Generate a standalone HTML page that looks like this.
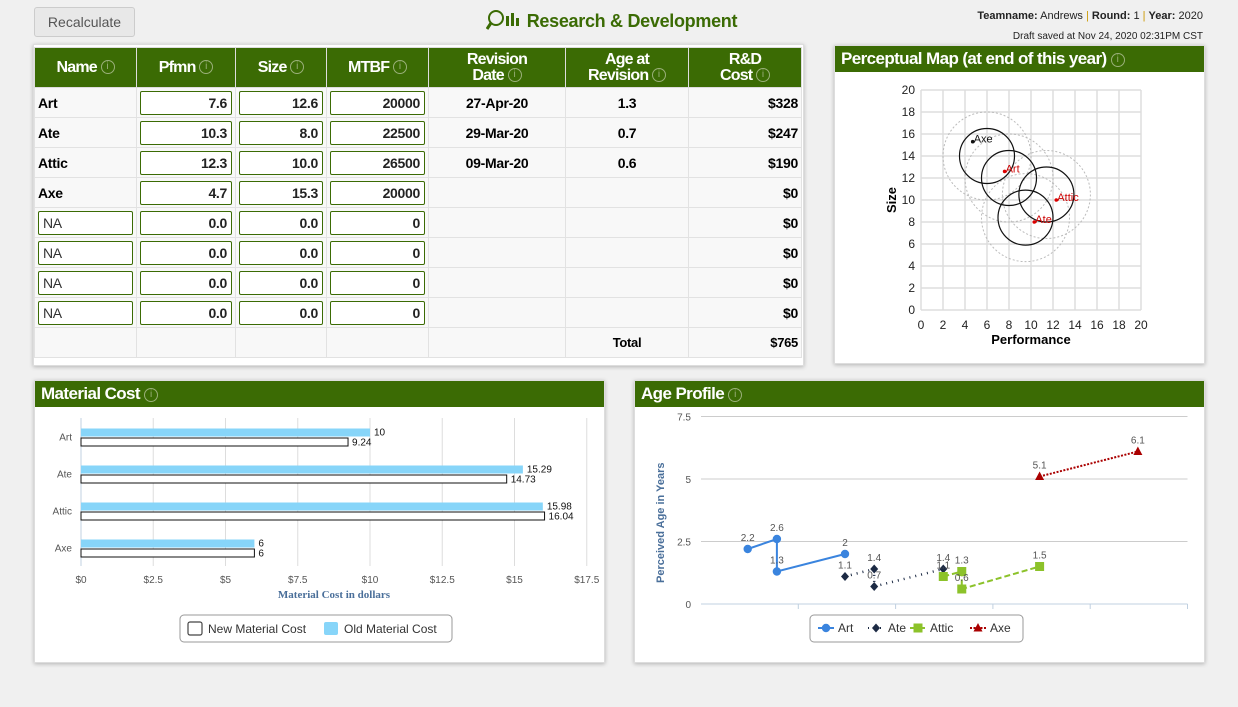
<!DOCTYPE html>
<html><head><meta charset="utf-8">
<style>
*{box-sizing:border-box}
body{margin:0;width:1238px;height:707px;background:#f0f0f0;font-family:"Liberation Sans",sans-serif;position:relative;overflow:hidden}
.abs{position:absolute}
.panel{position:absolute;background:#fff;border:1px solid #ddd;box-shadow:0 1px 4px rgba(0,0,0,.25)}
.ph{background:#3b6b04;color:#fff;font-weight:bold;font-size:17px;letter-spacing:-0.6px;height:26px;line-height:26px;padding-left:6px}
.info{display:inline-block;width:14px;height:14px;border:1px solid #9ab07a;border-radius:50%;color:#9ab07a;font-size:10px;line-height:12px;text-align:center;font-weight:normal;vertical-align:middle;letter-spacing:0}
table{border-collapse:collapse;position:absolute;left:34px;top:47px;table-layout:fixed}
th{background:#3b6b04;color:#fff;font-size:16px;letter-spacing:-0.8px;height:40px;border:1px solid #ddd;line-height:16px;padding:0}
td{height:30px;border:1px solid #e2e2e2;background:#f8f8f8;font-size:14px;letter-spacing:-0.3px;font-weight:bold;padding:0 3px}
.inp{border:1px solid #3b6b04;border-radius:2px;background:#fff;height:24px;line-height:22px;text-align:right;padding-right:4px;font-weight:bold;font-size:14px;color:#222}
.na{text-align:left;padding-left:4px;font-weight:normal;color:#333}
</style></head><body>
<div class="abs" style="left:34px;top:7px;width:101px;height:30px;border:1px solid #ccc;border-radius:3px;background:#e8e8e8;color:#555;font-size:14px;line-height:28px;text-align:center">Recalculate</div>
<div class="abs" style="left:486px;top:9px;font-size:18px;letter-spacing:-0.3px;font-weight:bold;color:#3b6b04">
<svg width="36" height="22" style="vertical-align:-4px"><circle cx="10" cy="9" r="7" fill="none" stroke="#3b6b04" stroke-width="2"/><line x1="5" y1="14" x2="1" y2="20" stroke="#3b6b04" stroke-width="3"/><rect x="20" y="7" width="3" height="10" fill="#3b6b04"/><rect x="25" y="4" width="3" height="13" fill="#3b6b04"/><rect x="30" y="9" width="3" height="8" fill="#3b6b04"/></svg> Research &amp; Development</div>
<div class="abs" style="right:35px;top:10px;font-size:11px;color:#222"><b>Teamname:</b> Andrews <span style="color:#c90">|</span> <b>Round:</b> 1 <span style="color:#c90">|</span> <b>Year:</b> 2020</div>
<div class="abs" style="right:35px;top:31px;font-size:10px;color:#222">Draft saved at Nov 24, 2020 02:31PM CST</div>

<div class="panel" style="left:33px;top:44px;width:771px;height:322px"></div>
<table>
<tr><th style="width:102px">Name <span class="info">i</span></th><th style="width:99px">Pfmn <span class="info">i</span></th><th style="width:91px">Size <span class="info">i</span></th><th style="width:102px">MTBF <span class="info">i</span></th><th style="width:137px">Revision<br>Date <span class="info">i</span></th><th style="width:123px">Age at<br>Revision <span class="info">i</span></th><th style="width:113px">R&amp;D<br>Cost <span class="info">i</span></th></tr>
<tbody id="tb"></tbody>
</table>

<div class="panel" style="left:834px;top:45px;width:371px;height:319px"><div class="ph">Perceptual Map (at end of this year) <span class="info">i</span></div></div>
<svg class="abs" style="left:834px;top:75px" width="370" height="285" id="pm"></svg>

<div class="panel" style="left:34px;top:380px;width:571px;height:283px"><div class="ph">Material Cost <span class="info">i</span></div></div>
<svg class="abs" style="left:34px;top:406px" width="570" height="255" id="mc"></svg>

<div class="panel" style="left:634px;top:380px;width:571px;height:283px"><div class="ph">Age Profile <span class="info">i</span></div></div>
<svg class="abs" style="left:634px;top:406px" width="570" height="255" id="ap"></svg>

<script>
const names=["Art","Ate","Attic","Axe","NA","NA","NA","NA"];
const pfmn=["7.6","10.3","12.3","4.7","0.0","0.0","0.0","0.0"];
const sizes=["12.6","8.0","10.0","15.3","0.0","0.0","0.0","0.0"];
const mtbf=["20000","22500","26500","20000","0","0","0","0"];
const revDate=["27-Apr-20","29-Mar-20","09-Mar-20","","","","",""];
const ageRev=["1.3","0.7","0.6","","","","",""];
const rdCost=["$328","$247","$190","$0","$0","$0","$0","$0"];
const tb=document.getElementById('tb');
let h='';
for(let i=0;i<8;i++){
 const nm=i<4?names[i]:'<div class="inp na">NA</div>';
 h+='<tr><td>'+nm+'</td><td><div class="inp">'+pfmn[i]+'</div></td><td><div class="inp">'+sizes[i]+'</div></td><td><div class="inp">'+mtbf[i]+'</div></td><td style="text-align:center">'+revDate[i]+'</td><td style="text-align:center">'+ageRev[i]+'</td><td style="text-align:right">'+rdCost[i]+'</td></tr>';
}
h+='<tr><td></td><td></td><td></td><td></td><td></td><td style="text-align:center;font-size:13px">Total</td><td style="text-align:right;font-size:13px">$765</td></tr>';
tb.innerHTML=h;
document.querySelectorAll('.inp').forEach(e=>{});

const NS='http://www.w3.org/2000/svg';
function mk(svg,tag,attrs,txt){const e=document.createElementNS(NS,tag);for(const k in attrs)e.setAttribute(k,attrs[k]);if(txt!==undefined)e.textContent=txt;svg.appendChild(e);return e;}

// ---- perceptual map
const pmNames=["Art","Ate","Attic","Axe"];
const pmPerf=[7.6,10.3,12.3,4.7];
const pmSize=[12.6,8.0,10.0,15.3];
const idealPerf=[8.0,9.5,11.4,6.0];
const idealSize=[12.0,8.4,10.5,14.0];
const pmTicks=[0,2,4,6,8,10,12,14,16,18,20];
const pm=document.getElementById('pm');
const px=v=>87+v*11, py=v=>235-v*11;
pmTicks.forEach(t=>{
 let l=mk(pm,'line',{x1:px(t),x2:px(t),y1:py(0),y2:py(20),stroke:'#ddd','stroke-width':1.5});
 
 l=mk(pm,'line',{x1:px(0),x2:px(20),y1:py(t),y2:py(t),stroke:'#ddd','stroke-width':1.5});
 
 let a=mk(pm,'text',{x:px(t),y:py(0)+19,'font-size':12,'text-anchor':'middle',fill:'#222'},t);
 
 a=mk(pm,'text',{x:px(0)-6,y:py(t)+4,'font-size':12,'text-anchor':'end',fill:'#222'},t);
 
});
let t1=mk(pm,'text',{x:px(10),y:py(0)+34,'font-size':13,'font-weight':'bold','text-anchor':'middle'},'Performance');

t1=mk(pm,'text',{x:62,y:py(10)+0,'font-size':13,'font-weight':'bold','text-anchor':'middle',transform:'rotate(-90 62 '+py(10)+')'},'Size');

for(let i=0;i<4;i++){
 let c=mk(pm,'circle',{cx:px(idealPerf[i]),cy:py(idealSize[i]),r:44,fill:'none',stroke:'#bbb','stroke-dasharray':'2,2'});
 
}
for(let i=0;i<4;i++){
 let c=mk(pm,'circle',{cx:px(idealPerf[i]),cy:py(idealSize[i]),r:27.5,fill:'none',stroke:'#111','stroke-width':1.2});
 
}
for(let i=0;i<4;i++){
 const red=i!==3;
 let d=mk(pm,'circle',{cx:px(pmPerf[i]),cy:py(pmSize[i]),r:1.8,fill:red?'#d00':'#111'});
 
 let t=mk(pm,'text',{x:px(pmPerf[i])+1,y:py(pmSize[i])+1,'font-size':11,fill:red?'#c00':'#111'},pmNames[i]);
 
}

// ---- material cost
const mcCats=["Art","Ate","Attic","Axe"];
const mcOld=[10,15.29,15.98,6];
const mcNew=[9.24,14.73,16.04,6];
const mcTicks=[0,2.5,5,7.5,10,12.5,15,17.5];
const mc=document.getElementById('mc');
const mx=v=>47+v*28.9, band=37, top0=12;
mcTicks.forEach(t=>{
 let l=mk(mc,'line',{x1:mx(t),x2:mx(t),y1:top0,y2:top0+band*4,stroke:'#ddd'});
 
 let a=mk(mc,'text',{x:mx(t),y:top0+band*4+17,'font-size':10,fill:'#555','text-anchor':'middle'},'$'+t);
 
});
mk(mc,'line',{x1:mx(0),x2:mx(0),y1:top0,y2:top0+band*4,stroke:'#c0d0e0'});
mcCats.forEach((c,i)=>{
 const cy=top0+band*i+band/2;
 let a=mk(mc,'text',{x:38,y:cy+4,'font-size':10,fill:'#555','text-anchor':'end'},c);
 
 let b=mk(mc,'rect',{x:mx(0),y:cy-8,width:mx(mcOld[i])-mx(0),height:8,fill:'#87d5f9'});
 
 b=mk(mc,'rect',{x:mx(0),y:cy+1.5,width:mx(mcNew[i])-mx(0),height:8,fill:'#fff',stroke:'#111','stroke-width':1});
 
 a=mk(mc,'text',{x:mx(mcOld[i])+4,y:cy-1,'font-size':10,fill:'#111'},mcOld[i]);
 
 a=mk(mc,'text',{x:mx(mcNew[i])+4,y:cy+9,'font-size':10,fill:'#111'},mcNew[i]);
 
});
t1=mk(mc,'text',{x:300,y:192,'font-size':11,'font-weight':'bold',fill:'#4a6f9a','font-family':'Liberation Serif,serif','text-anchor':'middle'},'Material Cost in dollars');

let lg=mk(mc,'rect',{x:146,y:209,width:272,height:27,rx:4,fill:'#fff',stroke:'#999'});

lg=mk(mc,'rect',{x:154,y:216,width:14,height:13,rx:2,fill:'#fff',stroke:'#444','stroke-width':1.2});

lg=mk(mc,'text',{x:174,y:227,'font-size':12,fill:'#333'},'New Material Cost');

lg=mk(mc,'rect',{x:290,y:216,width:14,height:13,rx:2,fill:'#87d5f9'});

lg=mk(mc,'text',{x:310,y:227,'font-size':12,fill:'#333'},'Old Material Cost');


// ---- age profile
const apNames=["Art","Ate","Attic","Axe"];
const artX=[0.48,0.78,0.78,1.48], artY=[2.2,2.6,1.3,2.0];
const ateX=[1.48,1.78,1.78,2.49], ateY=[1.1,1.4,0.7,1.4];
const atticX=[2.49,2.68,2.68,3.48], atticY=[1.1,1.3,0.6,1.5];
const axeX=[3.48,4.49], axeY=[5.1,6.1];
const apYTicks=[0,2.5,5,7.5];
const ap=document.getElementById('ap');
const ax=v=>67+v*97.3, ay=v=>198-v*25;
apYTicks.forEach(t=>{
 let l=mk(ap,'line',{x1:ax(0),x2:ax(5),y1:ay(t),y2:ay(t),stroke:t===0?'#c0d0e0':'#ccc'});
 
 let a=mk(ap,'text',{x:57,y:ay(t)+4,'font-size':10,fill:'#555','text-anchor':'end'},t);
 
});
for(let k=1;k<=5;k++){mk(ap,'line',{x1:ax(k),x2:ax(k),y1:ay(0),y2:ay(0)+5,stroke:'#c0d0e0'});}
t1=mk(ap,'text',{x:30,y:ay(3.25),'font-size':11,'font-weight':'bold',fill:'#4a6f9a','text-anchor':'middle',transform:'rotate(-90 30 '+ay(3.25)+')'},'Perceived Age in Years');

const series=[
 {n:'art',X:artX,Y:artY,c:'#3a84de',d:'',w:2,m:'circle'},
 {n:'ate',X:ateX,Y:ateY,c:'#1c2a44',d:'1,5',w:2.5,m:'diamond'},
 {n:'attic',X:atticX,Y:atticY,c:'#8cc22a',d:'6,3',w:2,m:'square'},
 {n:'axe',X:axeX,Y:axeY,c:'#a00',d:'2,1.5',w:2,m:'triangle'}];
function marker(svg,m,x,y,c){
 if(m==='circle')return mk(svg,'circle',{cx:x,cy:y,r:4.2,fill:c});
 if(m==='diamond')return mk(svg,'path',{d:`M${x} ${y-4.5}L${x+4} ${y}L${x} ${y+4.5}L${x-4} ${y}Z`,fill:c});
 if(m==='square')return mk(svg,'rect',{x:x-4.5,y:y-4.5,width:9,height:9,fill:c});
 return mk(svg,'path',{d:`M${x} ${y-5}L${x+4.5} ${y+3.5}L${x-4.5} ${y+3.5}Z`,fill:c});
}
series.forEach(s=>{
 const pts=s.X.map((x,i)=>ax(x)+','+ay(s.Y[i])).join(' ');
 let p=mk(ap,'polyline',{points:pts,fill:'none',stroke:s.c,'stroke-width':s.w,'stroke-dasharray':s.d});
 
 s.X.forEach((x,i)=>{
  let mm=marker(ap,s.m,ax(x),ay(s.Y[i]),s.c);
  
  let a=mk(ap,'text',{x:ax(x),y:ay(s.Y[i])-8,'font-size':10,fill:'#555','text-anchor':'middle'},s.Y[i]);
  
 });
});
lg=mk(ap,'rect',{x:176,y:209,width:213,height:27,rx:4,fill:'#fff',stroke:'#999'});

let lx=184;
series.forEach((s,i)=>{
 let l=mk(ap,'line',{x1:lx,x2:lx+16,y1:222,y2:222,stroke:s.c,'stroke-width':2,'stroke-dasharray':s.d});
 
 let mm=marker(ap,s.m,lx+8,222,s.c);
 
 let a=mk(ap,'text',{x:lx+20,y:226,'font-size':12,fill:'#333'},apNames[i]);
 
 lx+= [50,42,60,40][i];
});
</script>
</body></html>
